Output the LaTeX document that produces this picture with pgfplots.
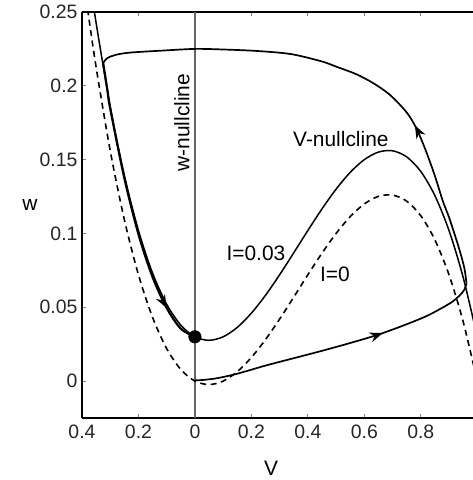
\documentclass[border=0pt]{standalone}
\usepackage{pgfplots}
\pgfplotsset{compat=1.18}
\usepackage{fontspec}
\setmainfont{Liberation Sans}
\usetikzlibrary{decorations.markings,arrows.meta}

% nullcline data: w = V(V-0.1)(1-V) + I, values typed in
\pgfplotstableread{
V      w0
-0.40  0.280
-0.38  0.25171
-0.35  0.212625
-0.30  0.156
-0.25  0.109375
-0.20  0.072
-0.15  0.043125
-0.10  0.022
-0.05  0.007875
0.00   0.0
0.05   -0.002375
0.10   0.0
0.15   0.006375
0.20   0.016
0.25   0.028125
0.30   0.042
0.35   0.056875
0.40   0.072
0.45   0.086625
0.50   0.1
0.55   0.111375
0.60   0.12
0.65   0.125125
0.70   0.126
0.75   0.121875
0.80   0.112
0.85   0.095625
0.90   0.072
0.95   0.040375
1.00   0.0
}\nullI

\pgfplotstableread{
V      w
-0.40  0.310
-0.38  0.28171
-0.35  0.242625
-0.30  0.186
-0.25  0.139375
-0.20  0.102
-0.15  0.073125
-0.10  0.052
-0.05  0.037875
0.00   0.03
0.05   0.027625
0.10   0.03
0.15   0.036375
0.20   0.046
0.25   0.058125
0.30   0.072
0.35   0.086875
0.40   0.102
0.45   0.116625
0.50   0.13
0.55   0.141375
0.60   0.15
0.65   0.155125
0.70   0.156
0.75   0.151875
0.80   0.142
0.85   0.125625
0.90   0.102
0.95   0.070375
1.00   0.03
}\nullII

\tikzset{
  arr/.style={postaction={decorate},decoration={markings,
      mark=at position #1 with {\arrow{Stealth[length=13bp,width=10bp]}}}}
}

\begin{document}
\begin{tikzpicture}
\begin{axis}[
  scale only axis, width=391bp, height=406bp,
  xmin=-0.4, xmax=0.985, ymin=-0.025, ymax=0.25,
  axis x line*=box, axis y line*=left,
  axis line style={line width=1.5bp},
  xtick={-0.4,-0.2,0,0.2,0.4,0.6,0.8},
  xticklabels={0.4,0.2,0,0.2,0.4,0.6,0.8},
  ytick={0,0.05,0.1,0.15,0.2,0.25},
  yticklabels={0,0.05,0.1,0.15,0.2,0.25},
  tick align=inside, major tick length=4bp,
  tick style={line width=0.8bp, gray},
  ticklabel style={font=\fontsize{19.5}{21}\selectfont, text=black!85},
  xticklabel style={yshift=-3bp},
  yticklabel style={xshift=-1bp},
]
% w-nullcline
\addplot[gray!80!black, line width=2.2bp] coordinates {(0,-0.025) (0,0.25)};
% V-nullclines
\addplot[black, line width=1.6bp, dash pattern=on 6bp off 4.5bp, smooth] table[x=V,y=w0] {\nullI};
\addplot[black, line width=1.5bp, smooth] table[x=V,y=w] {\nullII};
% trajectory
\addplot[black, line width=1.7bp, smooth, arr=0.66] coordinates {
 (0,0.0005) (0.03,0.0008) (0.08,0.002) (0.15,0.005) (0.25,0.0105)
 (0.35,0.0155) (0.45,0.0205) (0.55,0.0258) (0.65,0.0315) (0.75,0.0385)
 (0.82,0.044) (0.87,0.049) (0.91,0.0535) (0.935,0.0575) (0.953,0.0615) (0.962,0.066)};
\addplot[black, line width=1.7bp, smooth, arr=0.33] coordinates {
 (0.962,0.066) (0.955,0.076) (0.94,0.087) (0.924,0.097) (0.9,0.111)
 (0.878,0.122) (0.85,0.139) (0.818,0.156) (0.785,0.171) (0.75,0.182)
 (0.69,0.194) (0.63,0.202) (0.57,0.208) (0.5,0.213) (0.45,0.2165)
 (0.34,0.2215) (0.22,0.2236) (0.1,0.2246) (0,0.225) (-0.12,0.2238)
 (-0.23,0.2225) (-0.28,0.221) (-0.31,0.2188) (-0.325,0.2155)};
\addplot[black, line width=2.2bp, smooth, arr=0.86] coordinates {
 (-0.325,0.2155) (-0.31,0.197) (-0.3,0.1845) (-0.25,0.1375) (-0.2,0.0995)
 (-0.15,0.0705) (-0.1,0.0495) (-0.05,0.0355) (0,0.03)};
% fixed point
\addplot[only marks, mark=*, mark size=6.3bp, black] coordinates {(0,0.03)};

\node[rotate=90, font=\fontsize{21}{23}\selectfont] at (axis cs:-0.046,0.175) {w-nullcline};
\node[font=\fontsize{21}{23}\selectfont] at (axis cs:0.517,0.164) {V-nullcline};
\node[font=\fontsize{21}{23}\selectfont] at (axis cs:0.216,0.0865) {I=0.03};
\node[font=\fontsize{21}{23}\selectfont] at (axis cs:0.496,0.0723) {I=0};
\end{axis}
\node[font=\fontsize{21}{23}\selectfont] at (189bp,-50bp) {V};
\node[font=\fontsize{21}{23}\selectfont] at (-52bp,213bp) {w};
\pgfresetboundingbox
\path (-82bp,-62bp) rectangle (391bp,418bp);
\end{tikzpicture}
\end{document}
